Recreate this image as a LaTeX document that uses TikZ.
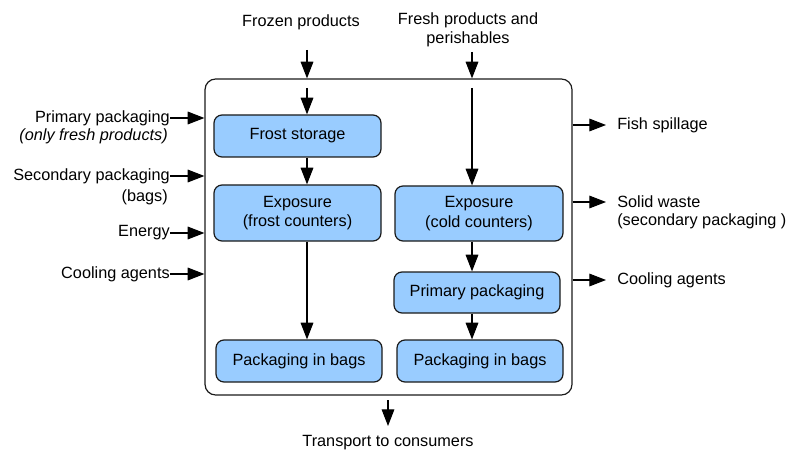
\documentclass[tikz,border=0pt]{standalone}
\usepackage{fontspec}
\setmainfont{Liberation Sans}
\usetikzlibrary{arrows.meta}
\definecolor{boxblue}{HTML}{99CCFF}
\definecolor{edge}{HTML}{1A1A1A}
\tikzset{
  proc/.style={draw=edge, line width=0.9pt, fill=boxblue, rounded corners=6pt, align=center, inner sep=0pt},
  arr/.style={draw=black, line width=0.8pt, -{Triangle[length=12.5pt,width=9.5pt]}},
  lab/.style={inner sep=0pt, font=\fontsize{12.2}{14.6}\selectfont},
}
\begin{document}
\begin{tikzpicture}[x=0.75pt,y=-0.75pt, font=\fontsize{12.2}{14.6}\selectfont]
\useasboundingbox (0,0) rectangle (787,452);
% system box
\node[draw=edge, line width=0.9pt, rounded corners=8pt, minimum width=275.25pt, minimum height=237pt, inner sep=0pt] (sys) at (388.5,237) {};
\coordinate (colL) at (307,0);
\coordinate (colR) at (472,0);
% process boxes
\node[proc, minimum width=125.25pt, minimum height=31.5pt] (frost) at (297.5,136) {Frost storage};
\node[proc, minimum width=125.25pt, minimum height=42pt] (expF) at (297.5,213) {Exposure\\(frost counters)};
\node[proc, minimum width=126pt, minimum height=41.25pt] (expC) at (479,213.5) {Exposure\\(cold counters)};
\node[proc, minimum width=124.5pt, minimum height=30.75pt] (prim) at (477,292.5) {Primary packaging};
\node[proc, minimum width=124.5pt, minimum height=31.5pt] (bagL) at (299,361) {Packaging in bags};
\node[proc, minimum width=124.5pt, minimum height=31.5pt] (bagR) at (480,361) {Packaging in bags};
% top inputs
\node[lab] (frozen) at (301,22) {Frozen products};
\node[lab, align=center] (fresh) at (468,30) {Fresh products and\\perishables};
\coordinate (frozenS) at (307,50);
\coordinate (freshS) at (472,52);
\draw[arr] (frozenS) -- (sys.north -| colL);
\draw[arr] (freshS) -- (sys.north -| colR);
\coordinate (inL) at (307,88);
\coordinate (inR) at (472,88);
\draw[arr] (inL) -- (frost.north -| colL);
\draw[arr] (inR) -- (expC.north -| colR);
\draw[arr] (frost.south -| colL) -- (expF.north -| colL);
\draw[arr] (expF.south -| colL) -- (bagL.north -| colL);
\draw[arr] (expC.south -| colR) -- (prim.north -| colR);
\draw[arr] (prim.south -| colR) -- (bagR.north -| colR);
% left inputs
\node[lab, anchor=east] (pp) at (170,118) {Primary packaging};
\node[lab, anchor=east] (pp2) at (168,136) {\itshape (only fresh products)};
\node[lab, anchor=east] (sp) at (170,176) {Secondary packaging};
\node[lab, anchor=east] (sp2) at (168,197) {(bags)};
\node[lab, anchor=east] (en) at (170,233) {Energy};
\node[lab, anchor=east] (ca) at (170,274) {Cooling agents};
\draw[arr] (pp.east) -- (pp.east -| sys.west);
\draw[arr] (sp.east) -- (sp.east -| sys.west);
\draw[arr] (en.east) -- (en.east -| sys.west);
\draw[arr] (ca.east) -- (ca.east -| sys.west);
% right outputs
\node[lab, anchor=west] (fs) at (617,125) {Fish spillage};
\node[lab, anchor=west] (sw) at (617,202) {Solid waste};
\node[lab, anchor=west] (sw2) at (617,221) {(secondary packaging )};
\node[lab, anchor=west] (co) at (617,280) {Cooling agents};
\coordinate (fsE) at (606,125);
\coordinate (swE) at (606,202);
\coordinate (coE) at (606,280);
\draw[arr] (fsE -| sys.east) -- (fsE);
\draw[arr] (swE -| sys.east) -- (swE);
\draw[arr] (coE -| sys.east) -- (coE);
% bottom output
\node[lab] (tr) at (388,443) {Transport to consumers};
\coordinate (trS) at (388,400);
\coordinate (trE) at (388,426);
\draw[arr] (trS) -- (trE);
\end{tikzpicture}
\end{document}
